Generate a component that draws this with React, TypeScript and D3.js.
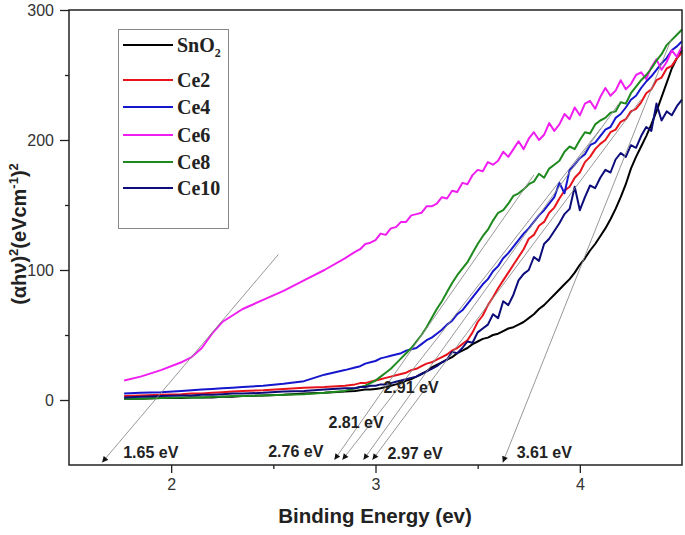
import React, { useEffect, useRef } from 'react';
import * as d3 from 'd3';

// photon energy grid (eV): coarse where curves are smooth, fine where they are noisy
const energy = [
  1.77, 1.85, 1.95, 2.05, 2.1, 2.15, 2.2, 2.25, 2.3, 2.35, 2.45, 2.55, 2.65, 2.75, 2.85,
  2.9, 2.925, 2.95, 2.975, 3.0, 3.025, 3.05, 3.075,
  3.1, 3.125, 3.15, 3.175, 3.2, 3.225, 3.25, 3.275,
  3.3, 3.325, 3.35, 3.375, 3.4, 3.425, 3.45, 3.475,
  3.5, 3.525, 3.55, 3.575, 3.6, 3.625, 3.65, 3.675,
  3.7, 3.725, 3.75, 3.775, 3.8, 3.825, 3.85, 3.875,
  3.9, 3.925, 3.95, 3.975, 4.0, 4.025, 4.05, 4.075,
  4.1, 4.125, 4.15, 4.175, 4.2, 4.225, 4.25, 4.275,
  4.3, 4.325, 4.35, 4.375, 4.4, 4.425, 4.45, 4.475,
  4.5,
];

const snO2 = [
  1, 1, 1.5, 1.5, 2, 2, 2, 2.5, 2.5, 3, 3.5, 4, 5, 5.5, 6.5,
  7, 7.5, 8, 8, 8.5, 9, 10, 11,
  12, 13, 15, 16, 18, 20, 22, 25,
  27, 29, 31, 33, 36, 38, 40, 43,
  45, 47, 48, 50, 51, 53, 55, 56,
  58, 60, 63, 66, 70, 73, 77, 81,
  85, 89, 93, 98, 104, 109, 115, 120,
  126, 132, 139, 147, 156, 166, 178, 187,
  195, 203, 212, 222, 233, 244, 255, 263,
  269,
];

const ce2 = [
  3, 3.5, 4, 4.5, 5, 5, 5.5, 6, 6.5, 7, 7.5, 8.5, 9.5, 10, 11,
  12, 13, 13, 14, 15, 16, 17, 18,
  19, 20, 21, 23, 24, 26, 28, 29,
  31, 33, 35, 38, 40, 43, 46, 52,
  60, 65, 73, 79, 86, 92, 98, 104,
  110, 116, 124, 127, 134, 137, 144, 148,
  155, 161, 164, 171, 175, 183, 187, 193,
  197, 200, 206, 208, 214, 216, 222, 224,
  229, 236, 239, 246, 248, 255, 257, 263,
  267,
];

const ce4 = [
  5, 5.5, 6, 7, 7.5, 8, 8.5, 9, 9.5, 10, 11, 12.5, 14.5, 19.5, 23,
  25, 26, 28, 29, 30, 32, 33, 34,
  35, 36, 38, 39, 40, 43, 46, 48,
  51, 54, 58, 61, 66, 69, 74, 79,
  84, 89, 93, 99, 103, 109, 113, 118,
  123, 128, 132, 137, 142, 146, 151, 156,
  167, 159, 177, 181, 186, 189, 196, 198,
  203, 208, 210, 217, 220, 225, 231, 234,
  240, 245, 249, 254, 259, 263, 269, 272,
  276,
];

const ce6 = [
  15, 18, 23, 29, 33, 40, 51, 60, 65, 70, 77, 84, 92, 100, 109,
  114, 116, 120, 121, 123, 128, 127, 132,
  133, 137, 137, 142, 143, 144, 149, 149,
  151, 156, 155, 161, 160, 167, 166, 173,
  177, 176, 183, 181, 184, 191, 187, 193,
  199, 193, 201, 206, 200, 204, 213, 207,
  212, 220, 216, 225, 219, 228, 230, 224,
  233, 240, 234, 238, 246, 239, 243, 250,
  252, 247, 256, 262, 254, 260, 269, 264,
  272,
];

const ce8 = [
  1, 1, 1.5, 2, 2, 2, 2.5, 2.5, 3, 3, 3.5, 4, 4.5, 5.5, 7,
  9, 10, 11, 13, 15, 18, 21, 24,
  28, 32, 36, 40, 45, 50, 56, 63,
  70, 76, 83, 90, 96, 101, 106, 113,
  120, 126, 131, 138, 144, 146, 151, 157,
  159, 162, 166, 168, 174, 171, 178, 181,
  184, 191, 195, 193, 200, 206, 205, 212,
  215, 217, 221, 222, 229, 228, 236, 241,
  246, 250, 255, 261, 266, 273, 277, 281,
  285,
];

const ce10 = [
  2, 2.5, 3, 3.5, 3.5, 4, 4, 4.5, 5, 5, 5.5, 6.5, 7, 8, 9,
  9, 10, 10, 11, 11, 12, 12, 13,
  14, 15, 16, 17, 18, 20, 22, 24,
  26, 29, 31, 37, 36, 40, 45, 44,
  52, 55, 58, 66, 63, 76, 73, 81,
  92, 97, 100, 110, 107, 120, 124, 130,
  136, 143, 147, 164, 146, 156, 165, 163,
  171, 177, 175, 185, 190, 187, 196, 194,
  203, 210, 207, 228, 215, 222, 219, 226,
  231,
];

const seriesNames = ['SnO2', 'Ce2', 'Ce4', 'Ce6', 'Ce8', 'Ce10'];
const seriesValues = [snO2, ce2, ce4, ce6, ce8, ce10];
const seriesColors = ['#000000', '#e8141c', '#1616cc', '#f01ef0', '#1e8a1e', '#0c0c7a'];

// band-gap extrapolation lines: upper end -> arrow tip (eV, (αhν)²)
const gapLabels = ['1.65 eV', '2.76 eV', '2.81 eV', '2.91 eV', '2.97 eV', '3.61 eV'];
const gapTop = [[2.525, 112], [3.775, 173], [4.103, 209], [4.191, 228], [4.299, 231], [4.446, 277]];
const gapTip = [[1.662, -48], [2.799, -46], [2.838, -46], [2.941, -46], [2.985, -46], [3.623, -48]];
const gapTextAt = [[1.765, -44.6], [2.475, -43.8], [2.77, -21.5], [3.039, 5.4], [3.059, -45.4], [3.691, -44.6]];

const xMajor = [2, 3, 4];
const xMinor = [2.5, 3.5];
const yMajor = [0, 100, 200, 300];
const yMinor = [50, 150, 250];

const SANS = 'Arial, "Liberation Sans", sans-serif';
const SERIF = '"Times New Roman", "Liberation Serif", serif';

const App = () => {
  const svgRef = useRef<SVGSVGElement>(null);

  useEffect(() => {
    const svg = d3.select(svgRef.current);
    svg.selectAll('*').remove();

    const width = 685;
    const height = 535;
    const margin = { top: 10, right: 3, bottom: 70, left: 69 };

    const x = d3.scaleLinear().domain([1.5, 4.5]).range([margin.left, width - margin.right]);
    const y = d3.scaleLinear().domain([-50, 300]).range([height - margin.bottom, margin.top]);

    svg.append('rect').attr('width', width).attr('height', height).attr('fill', '#fff');

    const defs = svg.append('defs');
    defs.append('marker')
      .attr('id', 'tip')
      .attr('viewBox', '0 0 10 10')
      .attr('refX', 10)
      .attr('refY', 5)
      .attr('markerWidth', 7)
      .attr('markerHeight', 6)
      .attr('markerUnits', 'userSpaceOnUse')
      .attr('orient', 'auto')
      .append('path')
      .attr('d', 'M0,0L10,5L0,10z')
      .attr('fill', '#111');

    // axes
    const styleAxis = (g) => {
      g.select('.domain').remove();
      g.selectAll('.tick line').attr('stroke', '#222').attr('stroke-width', 1.3);
      g.selectAll('.tick text')
        .attr('fill', '#333')
        .attr('font-family', SANS)
        .attr('font-size', 16);
    };

    svg.append('g')
      .attr('transform', `translate(0,${y(-50)})`)
      .call(d3.axisBottom(x).tickValues(xMajor).tickSize(8).tickPadding(6).tickFormat(d3.format('d')))
      .call(styleAxis);
    svg.append('g')
      .attr('transform', `translate(0,${y(-50)})`)
      .call(d3.axisBottom(x).tickValues(xMinor).tickSize(4).tickFormat(() => ''))
      .call(styleAxis);
    svg.append('g')
      .attr('transform', `translate(${x(1.5)},0)`)
      .call(d3.axisLeft(y).tickValues(yMajor).tickSize(9).tickPadding(6).tickFormat(d3.format('d')))
      .call(styleAxis);
    svg.append('g')
      .attr('transform', `translate(${x(1.5)},0)`)
      .call(d3.axisLeft(y).tickValues(yMinor).tickSize(4).tickFormat(() => ''))
      .call(styleAxis);

    // series
    const line = d3.line<number>()
      .x((d, i) => x(energy[i]))
      .y(d => y(d));

    seriesValues.forEach((vals, k) => {
      svg.append('path')
        .datum(vals)
        .attr('fill', 'none')
        .attr('stroke', seriesColors[k])
        .attr('stroke-width', 2)
        .attr('stroke-linejoin', 'round')
        .attr('d', line);
    });

    // extrapolation lines + labels
    gapTop.forEach((p, i) => {
      svg.append('line')
        .attr('x1', x(p[0]))
        .attr('y1', y(p[1]))
        .attr('x2', x(gapTip[i][0]))
        .attr('y2', y(gapTip[i][1]))
        .attr('stroke', '#8c8c8c')
        .attr('stroke-width', 0.9)
        .attr('marker-end', 'url(#tip)');
    });

    svg.append('g').selectAll('text')
      .data(gapLabels)
      .enter()
      .append('text')
      .attr('x', (d, i) => x(gapTextAt[i][0]))
      .attr('y', (d, i) => y(gapTextAt[i][1]))
      .attr('font-family', SANS)
      .attr('font-weight', 'bold')
      .attr('font-size', 16)
      .attr('fill', '#222')
      .text(d => d);

    // frame
    svg.append('rect')
      .attr('x', x(1.5))
      .attr('y', y(300))
      .attr('width', x(4.5) - x(1.5))
      .attr('height', y(-50) - y(300))
      .attr('fill', 'none')
      .attr('stroke', '#222')
      .attr('stroke-width', 1.5);

    // legend
    const lg = svg.append('g');
    lg.append('rect')
      .attr('x', 118.5)
      .attr('y', 29.5)
      .attr('width', 110)
      .attr('height', 199)
      .attr('fill', '#fff')
      .attr('stroke', '#888')
      .attr('stroke-width', 1);
    const rowY = [45, 80, 107, 135, 162, 188];
    seriesNames.forEach((name, i) => {
      lg.append('line')
        .attr('x1', 123).attr('x2', 173)
        .attr('y1', rowY[i]).attr('y2', rowY[i])
        .attr('stroke', seriesColors[i])
        .attr('stroke-width', 2);
      const t = lg.append('text')
        .attr('x', 177)
        .attr('y', rowY[i] + 7)
        .attr('font-family', SERIF)
        .attr('font-weight', 'bold')
        .attr('font-size', 20)
        .attr('fill', '#222');
      if (name === 'SnO2') {
        t.append('tspan').text('SnO');
        t.append('tspan').attr('dy', 5).attr('font-size', 12).text('2');
      } else {
        t.text(name);
      }
    });

    // axis titles
    svg.append('text')
      .attr('x', 375)
      .attr('y', 523)
      .attr('text-anchor', 'middle')
      .attr('font-family', SANS)
      .attr('font-weight', 'bold')
      .attr('font-size', 20.5)
      .attr('fill', '#222')
      .text('Binding Energy (ev)');

    const yt = svg.append('text')
      .attr('transform', 'translate(26,234) rotate(-90)')
      .attr('text-anchor', 'middle')
      .attr('font-family', SANS)
      .attr('font-weight', 'bold')
      .attr('font-size', 20)
      .attr('fill', '#222');
    yt.append('tspan').text('(αhν)');
    yt.append('tspan').attr('dy', -8).attr('font-size', 13).text('2');
    yt.append('tspan').attr('dy', 8).text('(eVcm');
    yt.append('tspan').attr('dy', -8).attr('font-size', 13).text('-1');
    yt.append('tspan').attr('dy', 8).text(')');
    yt.append('tspan').attr('dy', -8).attr('font-size', 13).text('2');
  }, []);

  return (
    <div style={{ position: 'absolute', left: 0, top: 0 }}>
      <svg ref={svgRef} width={685} height={535} style={{ display: 'block' }} />
    </div>
  );
};

export default App;
